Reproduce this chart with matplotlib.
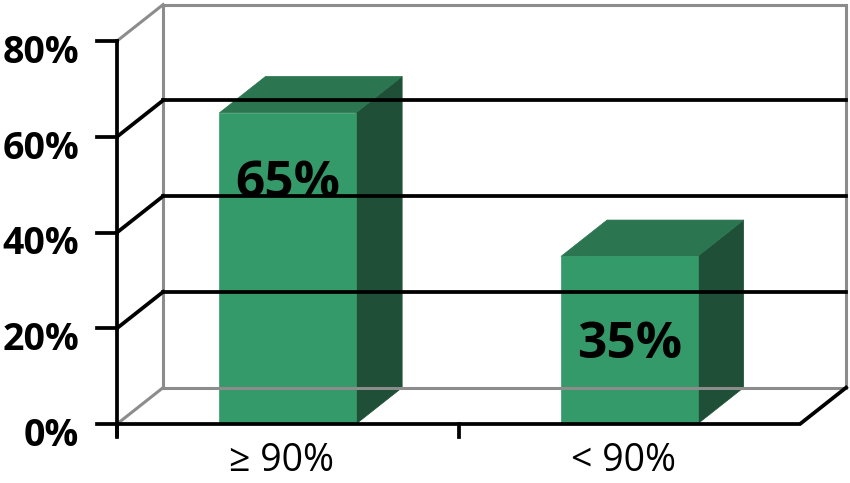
import matplotlib.pyplot as plt
from matplotlib.patches import Polygon

plt.rcParams['font.family'] = ['Open Sans', 'DejaVu Sans']

# data
categories = ['≥ 90%', '< 90%']
values = [65, 35]
value_labels = ['65%', '35%']
y_ticks = [0, 20, 40, 60, 80]
y_tick_labels = ['0%', '20%', '40%', '60%', '80%']

# layout: where the label baselines sit (in % units)
label_base = [47.4, 13.8]

# 3D look: depth offset (x in category units, y in % units)
DX = 0.135
DY = 7.6
BAR_W = 0.4
YMAX = 80

front = '#359a6a'
top = '#2b7550'
side = '#1f4f36'
grid_gray = '#8c8c8c'

fig = plt.figure(figsize=(8.5, 4.83), dpi=100)
ax = fig.add_axes([0, 0, 1, 1])
# front plane: x 0..2 -> px 117..800, y 0..80 -> px 424..41
px_per_cat = 341.5
px_per_pct = 4.7875
ax.set_xlim(-117 / px_per_cat, (850 - 117) / px_per_cat)
ax.set_ylim(-(483 - 424) / px_per_pct, 424 / px_per_pct)
ax.axis('off')

n = len(categories)
lw_black = 2.7
lw_gray = 2.2

# back wall frame (gray)
ax.plot([DX, DX, n + DX, n + DX, DX], [DY, YMAX + DY, YMAX + DY, DY, DY],
        color=grid_gray, lw=lw_gray, solid_joinstyle='miter')
ax.plot([0, DX], [YMAX, YMAX + DY], color=grid_gray, lw=lw_gray)
ax.plot([0, DX], [0, DY], color=grid_gray, lw=lw_gray)

# gridlines on back and side wall
for v in y_ticks[1:-1]:
    ax.plot([DX, n + DX], [v + DY, v + DY], color='black', lw=lw_black)
    ax.plot([0, DX], [v, v + DY], color='black', lw=lw_black)

# floor front edge and right edge
ax.plot([0, n, n + DX], [0, 0, DY], color='black', lw=lw_black,
        solid_joinstyle='miter')

# bars
for i, v in enumerate(values):
    c = i + 0.5
    l, r = c - BAR_W / 2, c + BAR_W / 2
    ax.add_patch(Polygon([(r, 0), (r + DX, DY), (r + DX, v + DY), (r, v)],
                         closed=True, fc=side, ec=side, lw=0.5))
    ax.add_patch(Polygon([(l, v), (r, v), (r + DX, v + DY), (l + DX, v + DY)],
                         closed=True, fc=top, ec=top, lw=0.5))
    ax.add_patch(Polygon([(l, 0), (r, 0), (r, v), (l, v)],
                         closed=True, fc=front, ec=front, lw=0.5))
    ax.text(c, label_base[i], value_labels[i], ha='center', va='baseline',
            fontsize=37, fontweight='bold', color='black')

# y axis with ticks
tick_len_x = 20 / px_per_cat
ax.plot([0, 0], [YMAX, -11 / px_per_pct], color='black', lw=lw_black)
for v, lab in zip(y_ticks, y_tick_labels):
    ax.plot([-tick_len_x, 0], [v, v], color='black', lw=lw_black)
    ax.text(-38 / px_per_cat, v - 22 / px_per_pct, lab, ha='right',
            va='baseline', fontsize=27, fontweight='bold', color='black')

# x ticks and category labels
for i in range(n):
    ax.plot([i, i], [0, -13 / px_per_pct], color='black', lw=lw_black)
for i, cat in enumerate(categories):
    ax.text(i + 0.5 - 6 / px_per_cat, -47 / px_per_pct, cat, ha='center',
            va='baseline', fontsize=27, color='black')

fig.savefig('out.png', dpi=100)
